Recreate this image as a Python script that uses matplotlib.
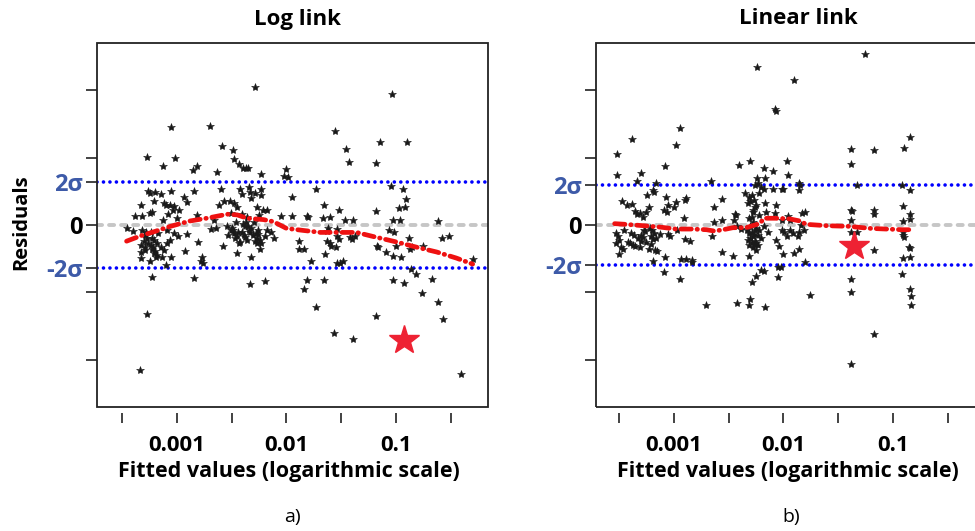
import numpy as np
import matplotlib
matplotlib.use('Agg')
import matplotlib.pyplot as plt
from matplotlib.patches import Rectangle

plt.rcParams['font.family'] = ['Open Sans', 'DejaVu Sans']

# Datos: log10(valor ajustado) y residuo
# Panel a) Log link
log_fit_a = [-2.29, -1.04, -3.05, -2.70, -1.56, -1.15, -0.90, -2.59, -1.46, -3.27, -3.02, -2.49, -2.48,
             -1.43, -1.18, -3.13, -2.85, -2.82, -2.43, -2.40, -2.37, -2.35, -2.63, -2.23, -2.00, -2.02, -1.99,
             -3.33, -3.26, -3.25, -3.20, -3.15, -3.21, -3.23, -3.25, -3.38, -3.32, -3.05, -3.12, -3.10, -3.06,
             -3.03, -3.04, -3.08, -2.98, -2.94, -2.91, -2.84, -2.82, -3.00, -3.13,
             -2.60, -2.62, -2.57, -2.52, -2.48, -2.42, -2.41, -2.34, -2.33, -2.32, -2.29, -2.23, -2.23, -2.27,
             -2.21, -2.25, -2.18, -2.45, -2.41, -2.36, -2.51, -2.66,
             -1.95, -2.05, -1.95, -1.81, -1.80, -1.73, -1.66, -1.60, -1.52, -1.47, -1.39, -1.18, -1.05, -0.94,
             -0.91, -0.97, -0.92, -1.03, -0.96, -0.62, -1.67,
             -2.69, -2.64, -1.54, -3.46, -3.40, -3.32, -3.29, -3.24, -3.23, -3.26, -3.21, -3.18, -3.33, -3.29,
             -3.23, -3.15, -3.33, -3.29, -3.21, -3.33, -3.25, -3.19, -3.14, -3.12, -3.06, -3.03, -2.99, -3.09,
             -3.05, -3.10, -2.93, -2.91, -2.81, -2.77, -2.78, -2.76, -3.09, -3.17,
             -2.54, -2.51, -2.48, -2.45, -2.41, -2.38, -2.34, -2.31, -2.27, -2.24, -2.20, -2.23, -2.28, -2.36,
             -2.42, -2.47, -2.53, -2.50, -2.39, -2.32, -2.26, -2.18, -2.14, -2.11, -2.58, -2.45, -2.32, -2.24,
             -2.43, -2.27,
             -1.89, -1.89, -1.84, -1.78, -1.65, -1.62, -1.63, -1.63, -1.60, -1.59, -1.55, -1.54, -1.52, -1.42,
             -1.40, -1.37, -1.54, -1.51, -1.48, -1.17, -1.16, -1.09, -1.03, -0.95, -1.00, -1.06, -1.02, -0.88,
             -0.85, -0.87, -0.75, -0.58, -0.52, -0.30,
             -3.23, -2.84, -2.33, -2.20, -1.81, -1.84, -1.66, -1.73, -0.86, -0.82, -1.03, -0.93, -0.67, -0.76,
             -0.62, -0.57, -1.18, -1.57, -1.39, -3.27, -3.34, -0.41,
             # zonas densas
             -3.30, -3.27, -3.22, -3.18, -3.28, -3.24, -3.20, -2.46, -2.40, -2.35, -2.30, -2.26, -2.44,
             -2.38, -2.33, -2.29, -2.49, -2.37]
resid_a = [2.04, 1.94, 1.45, 1.47, 1.39, 1.23, 1.23, 1.17, 1.13, 1.01, 0.99, 1.12, 0.98,
           0.93, 0.92, 0.87, 0.81, 0.87, 0.91, 0.85, 0.85, 0.85, 0.78, 0.76, 0.83, 0.72, 0.71,
           0.30, 0.51, 0.47, 0.49, 0.46, 0.35, 0.20, 0.18, 0.14, 0.13, 0.50, 0.32, 0.29, 0.30,
           0.28, 0.22, 0.16, 0.22, 0.42, 0.34, 0.50, 0.15, 0.11, 0.08,
           0.53, 0.29, 0.35, 0.35, 0.33, 0.53, 0.46, 0.57, 0.49, 0.40, 0.48, 0.53, 0.45, 0.27,
           0.22, 0.15, 0.22, 0.27, 0.17, 0.12, 0.18, 0.07,
           0.41, 0.13, 0.14, 0.13, 0.12, 0.54, 0.30, 0.12, 0.22, 0.07, 0.07, 0.21, 0.58, 0.53,
           0.39, 0.25, 0.26, 0.07, 0.07, 0.06, 0.10,
           -0.06, -0.04, -0.06, -0.04, -0.09, -0.07, -0.15, -0.10, -0.20, -0.27, -0.22, -0.27, -0.30, -0.32,
           -0.35, -0.32, -0.40, -0.37, -0.41, -0.49, -0.53, -0.47, -0.48, -0.37, -0.22, -0.12, -0.17, -0.27,
           -0.47, -0.59, -0.38, -0.13, -0.25, -0.47, -0.53, -0.57, -0.07, -0.12,
           -0.02, -0.07, -0.12, -0.17, -0.10, -0.02, -0.07, -0.15, -0.20, -0.22, -0.17, -0.27, -0.12, -0.22,
           -0.25, -0.20, -0.15, -0.05, -0.15, -0.05, -0.07, -0.07, -0.10, -0.20, -0.31, -0.41, -0.47, -0.35,
           -0.27, -0.27,
           -0.24, -0.36, -0.36, -0.53, -0.43, -0.05, -0.09, -0.24, -0.26, -0.31, -0.33, -0.17, -0.21, -0.18,
           -0.21, -0.17, -0.57, -0.56, -0.54, -0.31, -0.32, -0.40, -0.46, -0.47, -0.31, -0.08, -0.10, -0.19,
           -0.32, -0.36, -0.31, -0.19, -0.16, -0.51,
           -0.77, -0.79, -0.87, -0.83, -0.82, -0.95, -0.82, -1.21, -0.65, -0.72, -0.81, -0.86, -0.80, -1.01,
           -1.14, -1.40, -1.35, -1.60, -1.69, -1.32, -2.15, -2.21,
           -0.24, -0.19, -0.33, -0.44, -0.10, -0.30, -0.38, 0.05, 0.02, -0.02, 0.04, -0.14, -0.11,
           -0.18, -0.10, -0.24, -0.08, 0.04]
star_a = (-0.93, -1.71)
sigma2_a = 0.64
smooth_x_a = [-3.46, -3.33, -3.21, -3.06, -2.88, -2.73, -2.54, -2.45, -2.36, -2.21, -2.12, -2.00,
              -1.85, -1.69, -1.51, -1.36, -1.21, -1.00, -0.81, -0.63, -0.45, -0.30]
smooth_y_a = [-0.24, -0.16, -0.10, -0.02, 0.06, 0.10, 0.16, 0.15, 0.10, 0.08, 0.05, -0.05,
              -0.08, -0.11, -0.11, -0.11, -0.17, -0.25, -0.33, -0.40, -0.49, -0.58]

# Panel b) Linear link
log_fit_b = [-1.25, -2.24, -1.90, -2.08, -2.07, -2.94, -3.38, -2.98, -0.84, -0.90, -1.38, -1.17, -3.52,
             -1.38, -3.08, -3.52, -2.40, -2.30, -2.18, -2.09, -1.97, -1.96, -2.24, -2.17, -3.34, -3.30, -2.66,
             -3.16, -2.26, -2.23, -1.86, -1.85, -1.33, -0.92, -0.84, -2.18, -2.09, -2.01, -2.00, -1.86,
             -3.47, -3.43, -3.38, -3.35, -3.34, -3.31, -3.28, -3.25, -3.23, -3.24, -3.19, -3.18, -3.07, -3.09,
             -3.06, -2.98, -3.00, -3.05, -2.89, -2.90, -2.91, -2.56, -2.63, -2.63, -2.56, -2.44, -2.43, -2.45,
             -2.35, -2.29, -2.27, -2.22, -2.20, -2.25, -2.28, -2.29, -2.26, -2.30, -2.22, -2.17, -2.16, -2.07,
             -2.08, -1.96, -1.94, -1.83, -1.80, -1.38, -1.37, -1.38, -1.17, -1.17, -0.91, -0.84, -0.84, -0.91,
             -2.01, -2.32, -2.28, -2.31,
             -3.53, -3.51, -3.50, -3.53, -3.48, -3.45, -3.42, -3.39, -3.37, -3.33, -3.30, -3.31, -3.27, -3.25,
             -3.22, -3.21, -3.18, -3.16, -3.13, -3.23, -3.17, -3.15, -3.50, -3.46, -3.40, -3.35, -3.28, -3.20,
             -3.19, -3.08, -3.05, -3.03, -2.97, -2.90, -2.85, -2.93, -2.89, -2.83, -2.83, -3.19,
             -2.65, -2.56, -2.46, -2.31, -2.33, -2.31, -2.28, -2.25, -2.29, -2.26, -2.23, -2.20, -2.30, -2.22,
             -2.18, -2.14, -2.07, -2.04, -2.01, -1.99, -1.97, -1.94, -1.91, -1.87, -1.86, -1.84, -1.81, -1.90,
             -1.86, -2.00, -2.05, -2.02, -1.80, -2.42, -2.39, -2.32, -2.28, -2.25, -2.31, -2.23,
             -1.38, -1.17, -0.91, -0.91, -0.90, -0.85, -0.84, -0.91, -0.84, -1.33,
             -3.09, -2.94, -2.20, -2.18, -2.25, -2.29, -2.05, -1.76, -2.71, -2.42, -2.31, -2.30, -2.17, -1.38,
             -1.38, -0.92, -0.84, -0.83, -0.83, -1.17, -1.38,
             # zonas densas
             -2.29, -2.27, -2.30, -2.26, -2.28, -2.31, -2.25, -2.27, -3.30, -3.26, -3.21, -3.36]
resid_b = [2.53, 2.34, 2.15, 1.72, 1.69, 1.44, 1.27, 1.19, 1.30, 1.14, 1.13, 1.11, 1.05,
           0.90, 0.87, 0.74, 0.89, 0.95, 0.85, 0.80, 0.95, 0.74, 0.70, 0.70, 0.66, 0.77, 0.65,
           0.63, 0.60, 0.62, 0.63, 0.60, 0.60, 0.60, 0.52, 0.53, 0.53, 0.53, 0.54, 0.52,
           0.36, 0.29, 0.31, 0.21, 0.16, 0.18, 0.12, 0.20, 0.26, 0.44, 0.52, 0.49, 0.42, 0.22,
           0.19, 0.34, 0.27, 0.29, 0.40, 0.37, 0.10, 0.39, 0.27, 0.04, 0.07, 0.17, 0.15, 0.07,
           0.47, 0.44, 0.37, 0.48, 0.57, 0.30, 0.20, 0.12, 0.27, 0.35, 0.15, 0.32, 0.20, 0.29,
           0.18, 0.14, 0.07, 0.18, 0.20, 0.22, 0.21, 0.07, 0.22, 0.17, 0.28, 0.17, 0.09, 0.06,
           0.07, 0.32, 0.22, 0.42,
           -0.12, -0.17, -0.22, -0.27, -0.32, -0.07, -0.25, -0.12, -0.30, -0.20, -0.15, -0.32, -0.07, -0.25,
           -0.05, -0.17, -0.12, -0.20, -0.13, -0.35, -0.37, -0.39, -0.43, -0.35, -0.27, -0.31, -0.18, -0.07,
           -0.21, -0.48, -0.14, -0.16, -0.07, -0.21, -0.24, -0.51, -0.51, -0.52, -0.55, -0.54,
           -0.17, -0.40, -0.46, -0.46, -0.07, -0.12, -0.17, -0.27, -0.25, -0.07, -0.15, -0.20, -0.02, -0.07,
           -0.02, -0.10, -0.22, -0.31, -0.08, -0.11, -0.17, -0.07, -0.12, -0.17, -0.10, 0.00, -0.07, -0.41,
           -0.35, -0.43, -0.63, -0.62, -0.55, -0.02, -0.06, -0.22, -0.32, -0.37, -0.30, -0.30,
           -0.10, -0.37, -0.10, -0.15, -0.18, -0.32, -0.34, -0.49, -0.48, -0.10,
           -0.70, -0.80, -0.67, -0.68, -0.75, -0.85, -0.77, -1.04, -1.18, -1.16, -1.18, -1.10, -1.21, -0.80,
           -1.00, -0.73, -0.95, -1.05, -1.19, -1.61, -2.06,
           -0.10, -0.14, -0.19, -0.24, 0.05, 0.10, -0.04, -0.28, -0.23, -0.09, -0.28, -0.15]
star_b = (-1.35, -0.31)
sigma2_b = 0.60
smooth_x_b = [-3.54, -3.44, -3.28, -3.13, -2.98, -2.83, -2.70, -2.63, -2.55, -2.46, -2.34, -2.22,
              -2.17, -2.07, -1.94, -1.85, -1.79, -1.61, -1.40, -1.21, -1.06, -0.91, -0.83]
smooth_y_b = [0.02, 0.01, -0.01, -0.03, -0.06, -0.06, -0.07, -0.09, -0.07, -0.04, -0.04, 0.02,
              0.10, 0.10, 0.09, 0.06, 0.01, -0.01, -0.02, -0.05, -0.06, -0.07, -0.07]

tick_exp = [-3.5, -3, -2.5, -2, -1.5, -1, -0.5]
tick_txt = ['', '0.001', '', '0.01', '', '0.1', '']

azul_txt = '#3d5aa8'

fig = plt.figure(figsize=(9.75, 5.31), dpi=100)
W, H = 975., 531.

def panel(left, lx, res, star, s2, sx, sy, xlim, titulo, letra, tit_x):
    ax = fig.add_axes([left / W, 1 - 407 / H, 391 / W, 364 / H])
    fx = 10 ** np.array(lx)
    ax.set_xscale('log')
    ax.set_xlim(10 ** xlim[0], 10 ** xlim[1])
    ax.set_ylim(-2.70, 2.70)
    # lineas de referencia
    ax.axhline(0, color='#c6c6c6', lw=2.8, ls=(0, (1.3, 1.8)), dash_capstyle='round', zorder=1)
    for yy in (s2, -s2):
        ax.axhline(yy, color='#0000ff', lw=2.6, ls=(0, (0.01, 1.78)), dash_capstyle='round', zorder=1)
    ax.plot(fx, res, ls='none', marker='*', ms=6, mfc='#1a1a1a', mec='#1a1a1a', mew=0.4, zorder=2)
    ax.plot(10 ** np.array(sx), sy, color='#ee1111', lw=3.4, ls=(0, (2.2, 1.2, 0.1, 1.2)),
            dash_capstyle='round', zorder=3)
    ax.plot(10 ** star[0], star[1], marker='*', ms=22, color='#ee2233', mec='#ee2233', zorder=4)
    # ejes estilo R
    for s in ax.spines.values():
        s.set_visible(False)
    ax.add_patch(Rectangle((0, 0), 1, 1, transform=ax.transAxes, fill=False, lw=1.3,
                           ec='#222222', zorder=5, clip_on=False))
    ax.spines['bottom'].set_position(('outward', 4))
    ax.set_xticks(10 ** np.array(tick_exp))
    ax.set_xticklabels(tick_txt)
    ax.xaxis.set_minor_locator(matplotlib.ticker.NullLocator())
    ax.tick_params(axis='x', length=7, width=1.2, pad=9, labelsize=16, color='#222222')
    for t in ax.get_xticklabels():
        t.set_fontweight('bold')
    ax.set_yticks([-2, -1, -s2, 0, s2, 1, 2])
    ax.set_yticklabels(['', '', '-2σ', '0', '2σ', '', ''])
    ax.tick_params(axis='y', length=8, width=1.2, pad=2, labelsize=17, color='#222222')
    for i, t in enumerate(ax.get_yticklabels()):
        t.set_fontweight('bold')
        if i in (2, 4):
            t.set_color(azul_txt)
    ticks = ax.yaxis.get_major_ticks()
    ticks[2].tick1line.set_color(azul_txt)
    ticks[4].tick1line.set_color(azul_txt)
    cx = (left + 195.5) / W
    fig.text(tit_x / W, 1 - 19 / H, titulo, ha='center', va='center', fontsize=16, fontweight='bold')
    fig.text(cx - 4 / W, 1 - 471 / H, 'Fitted values (logarithmic scale)', ha='center', va='center',
             fontsize=15.5, fontweight='bold')
    fig.text(cx, 1 - 517 / H, letra, ha='center', va='center', fontsize=14)
    return ax

ax1 = panel(97, log_fit_a, resid_a, star_a, sigma2_a, smooth_x_a, smooth_y_a, (-3.73, -0.16),
            'Log link', 'a)', 297)
fig.text(21 / W, 1 - 222 / H, 'Residuals', rotation=90, ha='center', va='center',
         fontsize=14.5, fontweight='bold')
ax2 = panel(596, log_fit_b, resid_b, star_b, sigma2_b, smooth_x_b, smooth_y_b, (-3.71, -0.14),
            'Linear link', 'b)', 798)

fig.savefig('out.png', dpi=100)
